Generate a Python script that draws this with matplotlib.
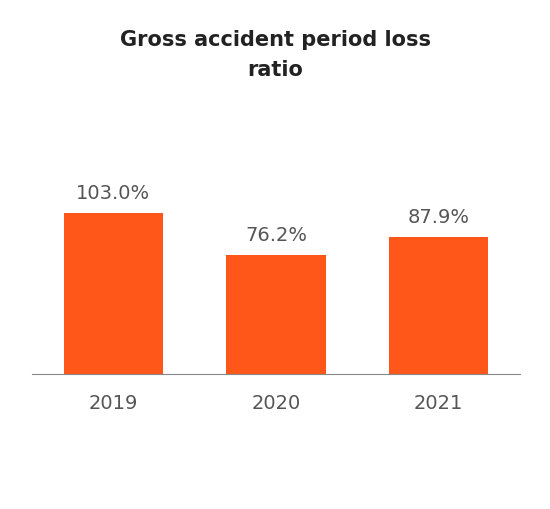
import matplotlib
matplotlib.use("Agg")
import matplotlib.pyplot as plt

years = ["2019", "2020", "2021"]
values = [103.0, 76.2, 87.9]
labels = ["103.0%", "76.2%", "87.9%"]

fig = plt.figure(figsize=(5.5, 5.1), dpi=100)
ax = fig.add_axes([32/550, 135/510, 488/550, 203/510])
x = range(len(years))
ax.bar(x, values, width=0.61, color="#FF5719")
for i, (v, l) in enumerate(zip(values, labels)):
    ax.text(i, v + 7, l, ha="center", va="bottom", fontsize=14, color="#555555")
ax.set_xlim(-0.5, 2.5)
ax.set_ylim(0, 130)
ax.set_xticks(list(x))
ax.set_xticklabels(years, fontsize=14, color="#555555")
ax.tick_params(axis="x", length=0, pad=14)
ax.set_yticks([])
for s in ["top", "right", "left"]:
    ax.spines[s].set_visible(False)
ax.spines["bottom"].set_color("#888888")
fig.text(0.5, 455/510, "Gross accident period loss\nratio", ha="center", va="center",
         fontsize=15, fontweight="bold", color="#222222", linespacing=1.6)
fig.savefig("out.png", dpi=100)
